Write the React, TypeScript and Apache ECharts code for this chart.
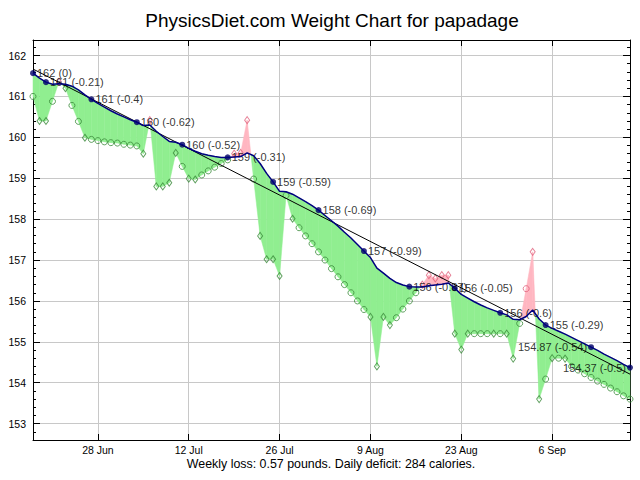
import React, { useEffect, useRef } from "react";
import * as echarts from "echarts";

// Day 0 = 18 Jun
const titleText = "PhysicsDiet.com Weight Chart for papadage";
const footerText = "Weekly loss: 0.57 pounds. Daily deficit: 284 calories.";

const weights = [
  161.0, 160.4, 160.4, 160.88, 161.36, 161.2, 160.78, 160.39, 159.99, 159.95,
  159.92, 159.89, 159.87, 159.86, 159.83, 159.81, 159.79, 159.6, 160.42, 158.8,
  158.8, 158.89, 159.62, 159.29, 158.99, 158.97, 159.08, 159.18, 159.27, 159.36,
  159.45, 159.6, 159.62, 160.42, 158.98, 157.59, 157.02, 157.02, 156.61, 158.58,
  158.01, 157.79, 157.59, 157.4, 157.2, 157.0, 156.79, 156.59, 156.4, 156.2,
  156.0, 155.79, 155.61, 154.4, 155.61, 155.41, 155.59, 155.8, 156.0, 156.2,
  156.4, 156.63, 156.55, 156.63, 156.63, 155.2, 154.81, 155.2, 155.2, 155.2,
  155.2, 155.2, 155.2, 155.2, 154.59, 155.45, 156.3, 157.2, 153.6, 154.09,
  154.6, 154.6, 154.59, 154.4, 154.31, 154.22, 154.13, 154.04, 153.96, 153.87,
  153.78, 153.68, 153.6,
];

const trend = [
  161.57, 161.45, 161.35, 161.30, 161.31, 161.30, 161.25, 161.16, 161.04, 160.93,
  160.83, 160.74, 160.65, 160.57, 160.50, 160.43, 160.37, 160.29, 160.30, 160.15,
  160.02, 159.90, 159.88, 159.82, 159.73, 159.66, 159.60, 159.56, 159.53, 159.51,
  159.51, 159.52, 159.53, 159.62, 159.55, 159.36, 159.12, 158.91, 158.68, 158.67,
  158.61, 158.52, 158.43, 158.33, 158.22, 158.09, 157.96, 157.83, 157.68, 157.54,
  157.38, 157.22, 157.06, 156.80, 156.68, 156.55, 156.45, 156.39, 156.35, 156.34,
  156.34, 156.37, 156.39, 156.41, 156.44, 156.31, 156.16, 156.07, 155.98, 155.90,
  155.83, 155.77, 155.71, 155.66, 155.55, 155.54, 155.62, 155.78, 155.56, 155.41,
  155.33, 155.26, 155.19, 155.11, 155.03, 154.95, 154.87, 154.79, 154.70, 154.62,
  154.54, 154.45, 154.37,
];

// days with an actual weigh-in (drawn as diamonds); others are circles
const weighInDays = [1, 2, 4, 5, 8, 17, 18, 19, 20, 21, 22, 24, 25, 31, 32, 33, 35, 36, 37, 38, 40,
  52, 53, 54, 55, 60, 61, 62, 63, 64, 65, 66, 67, 71, 73, 74, 77, 78, 80, 82];

const labelDays = [0, 2, 9, 16, 23, 30, 37, 44, 51, 58, 65, 72, 79, 86, 92];
const labelTexts = [
  "162 (0)", "161 (-0.21)", "161 (-0.4)", "160 (-0.62)", "160 (-0.52)", "159 (-0.31)",
  "159 (-0.59)", "158 (-0.69)", "157 (-0.99)", "156 (-0.87)", "156 (-0.05)", "156 (-0.6)",
  "155 (-0.29)", "154.87 (-0.54)", "154.37 (-0.5)",
];
const labelSides = ["right", "right", "right", "right", "right", "right", "right", "right",
  "right", "right", "right", "right", "right", "left", "left"];

const regressionDays = [0, 92];
const regressionValues = [161.67, 154.21];

const xTickDays = [10, 24, 38, 52, 66, 80];
const xTickLabels = ["28 Jun", "12 Jul", "26 Jul", "9 Aug", "23 Aug", "6 Sep"];
const yTicks = [153, 154, 155, 156, 157, 158, 159, 160, 161, 162];

const FONT = "'Liberation Sans', Arial, sans-serif";
const GREEN = "#90ee90";
const PINK = "#ffb6c1";

export default function App() {
  const ref = useRef<HTMLDivElement>(null);
  useEffect(() => {
    const chart = echarts.init(ref.current!, null, { renderer: "svg" });

    const segs: number[][] = [];
    for (let i = 0; i < weights.length - 1; i++) {
      segs.push([i, weights[i], trend[i], i + 1, weights[i + 1], trend[i + 1]]);
    }

    const markers = weights.map((w, i) => {
      const diamond = weighInDays.indexOf(i) >= 0;
      const above = w > trend[i];
      return {
        value: [i, w],
        symbol: diamond ? "diamond" : "circle",
        symbolSize: diamond ? [5, 7] : 6,
        itemStyle: {
          color: "rgba(0,0,0,0)",
          borderColor: above ? "#e0607c" : "#3a8a3a",
          borderWidth: 1,
        },
      };
    });

    const dots = labelDays.map((d, k) => ({
      value: [d, trend[d]],
      label: {
        show: true,
        position: labelSides[k],
        distance: 1,
        formatter: labelTexts[k],
        color: "#000",
        fontSize: 11,
        fontFamily: FONT,
      },
    }));

    const axisLine = { show: true, onZero: false, lineStyle: { color: "#000", width: 1 } };

    const option: any = {
      animation: false,
      backgroundColor: "#fff",
      grid: { left: 33, right: 10, top: 40, bottom: 40, containLabel: false, outerBoundsMode: "none" },
      xAxis: [
        {
          type: "value", position: "bottom", min: 0, max: 92,
          axisLine,
          axisTick: { show: true, inside: true, length: 6, customValues: xTickDays, lineStyle: { color: "#000" } },
          axisLabel: {
            show: true, customValues: xTickDays, margin: 4, color: "#000", fontSize: 10.5, fontFamily: FONT,
            formatter: (v: number) => xTickLabels[xTickDays.indexOf(v)] ?? "",
          },
          splitLine: { show: true, lineStyle: { color: "#c8c8c8", width: 1 } },
        },
        {
          type: "value", position: "top", min: 0, max: 92,
          axisLine,
          axisTick: { show: true, inside: true, length: 6, customValues: xTickDays, lineStyle: { color: "#000" } },
          axisLabel: { show: false },
          splitLine: { show: false },
        },
      ],
      yAxis: [
        {
          type: "value", position: "left", min: 152.6, max: 162.38,
          axisLine,
          axisTick: { show: true, inside: true, length: 7, customValues: yTicks, lineStyle: { color: "#000" } },
          axisLabel: { show: true, customValues: yTicks, margin: 7, color: "#000", fontSize: 10.5, fontFamily: FONT },
          splitLine: { show: true, lineStyle: { color: "#c8c8c8", width: 1 } },
        },
        {
          type: "value", position: "right", min: 152.6, max: 162.38,
          axisLine,
          axisTick: { show: true, inside: true, length: 7, customValues: yTicks, lineStyle: { color: "#000" } },
          axisLabel: { show: false },
          splitLine: { show: false },
        },
        {
          type: "value", position: "left", min: 152.6, max: 162.38, interval: 0.2,
          axisLine: { show: false, onZero: false },
          axisTick: { show: true, inside: true, length: 3, lineStyle: { color: "#000" } },
          axisLabel: { show: false },
          splitLine: { show: false },
        },
        {
          type: "value", position: "right", min: 152.6, max: 162.38, interval: 0.2,
          axisLine: { show: false, onZero: false },
          axisTick: { show: true, inside: true, length: 3, lineStyle: { color: "#000" } },
          axisLabel: { show: false },
          splitLine: { show: false },
        },
      ],
      graphic: [
        {
          type: "text", x: 332, y: 20, silent: true,
          style: { text: titleText, fill: "#000", fontSize: 19, fontFamily: FONT, align: "center", verticalAlign: "middle", textAlign: "center", textVerticalAlign: "middle" },
        },
        {
          type: "text", x: 331, y: 464, silent: true,
          style: { text: footerText, fill: "#000", fontSize: 12.4, fontFamily: FONT, align: "center", verticalAlign: "middle", textAlign: "center", textVerticalAlign: "middle" },
        },
      ],
      series: [
        {
          type: "custom",
          silent: true,
          data: segs,
          encode: { x: [0, 3], y: [1, 2, 4, 5] },
          renderItem: (params: any, api: any) => {
            const x0 = api.value(0), w0 = api.value(1), t0 = api.value(2);
            const x1 = api.value(3), w1 = api.value(4), t1 = api.value(5);
            const P = (x: number, y: number) => api.coord([x, y]);
            const d0 = w0 - t0, d1 = w1 - t1;
            const poly = (pts: number[][], c: string) => ({
              type: "polygon", shape: { points: pts },
              style: { fill: c, stroke: c, lineWidth: 0.5 },
            });
            const children: any[] = [];
            if (d0 * d1 < 0) {
              const f = d0 / (d0 - d1);
              const cx = x0 + f * (x1 - x0), cy = t0 + f * (t1 - t0);
              children.push(poly([P(x0, t0), P(cx, cy), P(x0, w0)], d0 > 0 ? PINK : GREEN));
              children.push(poly([P(cx, cy), P(x1, t1), P(x1, w1)], d1 > 0 ? PINK : GREEN));
            } else {
              const c = d0 + d1 > 0 ? PINK : GREEN;
              children.push(poly([P(x0, t0), P(x1, t1), P(x1, w1), P(x0, w0)], c));
            }
            return { type: "group", children };
          },
        },
        {
          type: "line", silent: true, symbol: "none",
          data: regressionDays.map((d, i) => [d, regressionValues[i]]),
          lineStyle: { color: "#000", width: 1 },
        },
        {
          type: "line", silent: true, symbol: "none",
          data: trend.map((t, i) => [i, t]),
          lineStyle: { color: "#000080", width: 1.5 },
        },
        {
          type: "scatter", silent: true,
          data: markers,
        },
        {
          type: "scatter", silent: true,
          symbol: "circle", symbolSize: 6,
          itemStyle: { color: "#000066" },
          data: dots,
        },
      ],
    };
    chart.setOption(option);
    return () => chart.dispose();
  }, []);
  return (
    <div
      ref={ref}
      style={{ position: "fixed", left: 0, top: 0, width: 640, height: 480, background: "#fff" }}
    />
  );
}
